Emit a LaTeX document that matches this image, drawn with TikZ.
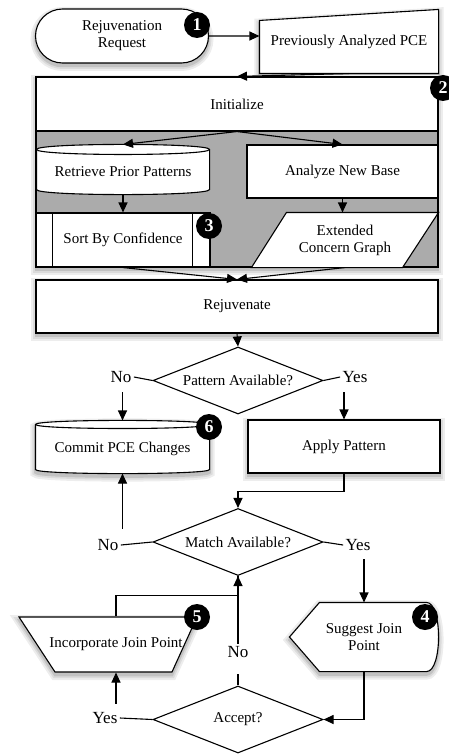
\documentclass[tikz,border=0pt]{standalone}
\usepackage{fontspec}
\setmainfont{Liberation Serif}
\usetikzlibrary{arrows.meta}
\usetikzlibrary{shapes.geometric}
\usetikzlibrary{shapes.misc}
\usetikzlibrary{backgrounds}

\tikzset{
  >={Triangle[length=10pt,width=9pt]},
  shade/.style={
    preaction={draw=black!7,fill=black!7,line width=10pt,transform canvas={yshift=-3pt}},
    preaction={draw=black!14,fill=black!14,line width=6pt,transform canvas={yshift=-3pt}},
    preaction={draw=black!24,fill=black!24,line width=2.5pt,transform canvas={yshift=-3pt}}},
  plain/.style={inner sep=0pt,align=center,font=\fontsize{15}{17}\selectfont},
  outline/.style={draw,fill=white,line width=1.1pt},
  box/.style={plain,outline},
  sbox/.style={box,shade},
  term/.style={box,shade,rounded rectangle},
  grpbox/.style={fill=black!33,draw,line width=1.1pt,shade},
  decision/.style={plain,draw,fill=white,line width=1.1pt,diamond,aspect=2.54,
    minimum width=170,minimum height=67},
  answer/.style={inner sep=2pt,font=\fontsize{17}{19}\selectfont},
  badge/.style={circle,fill=black,text=white,inner sep=0pt,minimum size=26,
    font=\bfseries\fontsize{18}{18}\selectfont},
}

% database drum round a node: [options] name, y radius, control offset
\newcommand{\dbdraw}[4][]{%
  \draw[outline,#1] (#2.north west) -- ([yshift=#3pt]#2.south west)
    .. controls +(0,#4) and +(0,#4) .. ([yshift=#3pt]#2.south east)
    -- (#2.north east) .. controls +(0,-#4) and +(0,-#4) .. (#2.north west) -- cycle;
  \draw[line width=1.1pt] (#2.north west) .. controls +(0,#4) and +(0,#4) .. (#2.north east);}

\begin{document}
\begin{tikzpicture}[x=1pt,y=-1pt,line width=1.1pt]
  \useasboundingbox (0,0) rectangle (448,754);

  % top part
  \node[term,minimum width=173,minimum height=54] (req) at (122,36) {Rejuvenation\\Request};
  \node[plain,minimum width=178,minimum height=63] (pce) at (349,41.5) {Previously Analyzed PCE};
  \node[box,minimum width=402,minimum height=54] (init) at (237,104) {Initialize};
  \node[plain,minimum width=172,minimum height=44] (retr) at (123,172) {Retrieve Prior Patterns};
  \node[box,minimum width=191,minimum height=53] (anb) at (342.5,171.5) {Analyze New Base};
  \node[box,minimum width=174,minimum height=54] (sort) at (123,240) {Sort By Confidence};
  \node[plain,minimum width=186,minimum height=54] (ecg) at (345,240) {Extended\\Concern Graph};
  \node[sbox,minimum width=402,minimum height=53] (rejuv) at (237,306.5) {Rejuvenate};

  % decisions
  \node[decision] (pat) at (238,380.5) {Pattern Available?};
  \node[answer] (pno) at (121,377) {No};
  \node[answer] (pyes) at (355,377) {Yes};
  \node[plain,minimum width=173,minimum height=48] (commit) at (122.5,449) {Commit PCE Changes};
  \node[sbox,minimum width=192,minimum height=53] (apply) at (344,446.5) {Apply Pattern};
  \node[decision] (match) at (238,542) {Match Available?};
  \node[answer] (mno) at (108,545) {No};
  \node[answer] (myes) at (358,545) {Yes};
  \node[plain,minimum width=148,minimum height=68] (sug) at (364,637) {Suggest Join\\Point};
  \node[plain,minimum height=55] (inc) at (116,644.5) {Incorporate Join Point};
  \node[decision] (acc) at (238,719.5) {Accept?};
  \node[answer] (ayes) at (105,718) {Yes};
  \node[answer] (ano) at (238,652) {No};

  \coordinate (retrtop) at ([yshift=5pt]retr.north);
  \coordinate (committop) at ([yshift=4pt]commit.north);

  % outlines behind the texts
  \begin{scope}[on background layer]
    \draw[outline,shade] (pce.south west) -- (pce.south east) -- (pce.north east)
      -- ([yshift=-11pt]pce.north west) -- cycle;
    \node[grpbox,minimum width=402,minimum height=190] (grp) at (237,172) {};
    \dbdraw{retr}{5}{6.7}
    \draw[outline] (ecg.south west) -- ([xshift=-36pt]ecg.south east) -- (ecg.north east)
      -- ([xshift=35pt]ecg.north west) -- cycle;
    \dbdraw[shade]{commit}{4}{5.4}
    \draw[outline,shade] (sug.west) -- ([xshift=30pt]sug.north west)
      -- ([xshift=-12pt]sug.north east) .. controls +(16,0) and +(16,0) .. ([xshift=-12pt]sug.south east)
      -- ([xshift=30pt]sug.south west) -- cycle;
    \draw[outline,shade] ([shift={(-97,-27.5)}]inc.center) -- ([shift={(81,-27.5)}]inc.center)
      -- ([shift={(56,27.5)}]inc.center) -- ([shift={(-61,27.5)}]inc.center) -- cycle;
  \end{scope}
  \draw ([xshift=17pt]sort.north west) -- ([xshift=17pt]sort.south west);
  \draw ([xshift=-18pt]sort.north east) -- ([xshift=-18pt]sort.south east);

  % connectors
  \draw[->] (req) -- (req -| pce.west);
  \draw[->] (pce.south) -- (init.north);
  \draw[->] (init.south) -- (retrtop);
  \draw[->] (init.south) -- (anb.north);
  \draw[->] (retr.south) -- (sort.north);
  \draw[->] (anb.south) -- (anb.south |- ecg.north);
  \draw[->] (sort.south) -- (rejuv.north);
  \draw[->] (ecg.south) -- (rejuv.north);
  \draw[->] (rejuv.south) -- (pat.north);
  \draw (pat.west) -- (pno.east);
  \draw (pat.east) -- (pyes.west);
  \draw[->,shorten <=7pt] (committop |- pno.south) -- (committop);
  \draw[->,shorten <=7pt] (apply.north |- pyes.south) -- (apply.north);
  \draw[->] (apply.south) -- ++(0,18) -| (match.north);
  \draw (match.west) -- (mno.east);
  \draw (match.east) -- (myes.west);
  \draw[->,shorten <=8pt] (commit.south |- mno.north) -- (commit.south);
  \draw[->,shorten <=6pt] (sug.north |- myes.south) -- (sug.north);
  \draw[->] (sug.south) |- (acc.east);
  \draw (acc.west) -- (ayes.east);
  \draw[->,shorten <=6pt] (inc.south |- ayes.north) -- (inc.south);
  \draw[->] (inc.north) -- ++(0,-21) -| (match.south);
  \draw[shorten >=14pt] (acc.north) -- (ano.south);
  \draw (ano.north) -- (match.south);

  % step numbers
  \node[badge] (n1) at (197,25) {1};
  \node[badge] (n2) at (443,88) {2};
  \node[badge] (n3) at (209,226) {3};
  \node[badge] (n4) at (425,617) {4};
  \node[badge] (n5) at (197,617) {5};
  \node[badge] (n6) at (209,427) {6};
\end{tikzpicture}
\end{document}
